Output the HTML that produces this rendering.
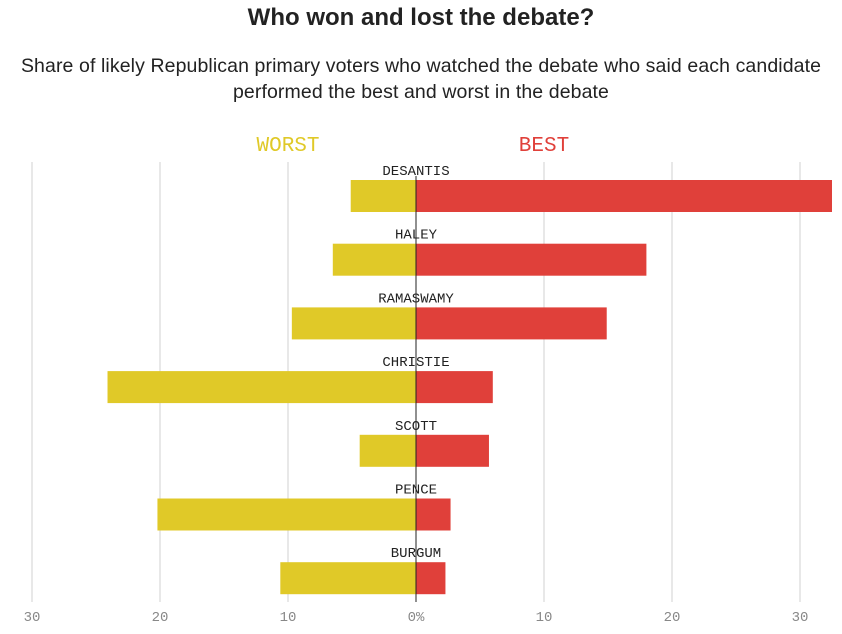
<!DOCTYPE html>
<html><head><meta charset="utf-8"><style>
body{margin:0;background:#fff;width:842px;height:634px;overflow:hidden;font-family:"Liberation Sans",sans-serif}
h1{position:absolute;top:4px;left:0;width:842px;text-align:center;font-size:24px;font-weight:bold;color:#222;margin:0}
.sub{position:absolute;top:53px;left:0;width:842px;text-align:center;font-size:19.5px;line-height:26px;color:#222;letter-spacing:0.1px}
svg{position:absolute;left:0;top:0}
</style></head><body>
<h1>Who won and lost the debate?</h1>
<div class="sub">Share of likely Republican primary voters who watched the debate who said each candidate<br>performed the best and worst in the debate</div>
<svg id="c" width="842" height="634"></svg>
<script>
const candidates=["DESANTIS","HALEY","RAMASWAMY","CHRISTIE","SCOTT","PENCE","BURGUM"];
const bestValues=[32.5,18.0,14.9,6.0,5.7,2.7,2.3];
const worstValues=[5.1,6.5,9.7,24.1,4.4,20.2,10.6];
const tickValues=[-30,-20,-10,0,10,20,30];
const tickLabels=["30","20","10","0%","10","20","30"];
const svg=document.getElementById('c');const NS="http://www.w3.org/2000/svg";
const x=v=>416+v*12.8;
const rowY=i=>180+i*63.7;
function mk(t,a){const e=document.createElementNS(NS,t);for(const k in a)e.setAttribute(k,a[k]);svg.appendChild(e);return e;}
tickValues.forEach((v,i)=>{
 if(v!==0){const g=mk('line',{x1:x(v),x2:x(v),y1:162,y2:602,stroke:'#d0d0d0','stroke-width':1});
 
 }
 const t=mk('text',{x:x(v),y:621,'text-anchor':'middle','font-size':14,fill:'#888','font-family':'Liberation Mono, monospace'});
 t.textContent=tickLabels[i];
 
 
});
const lw=mk('text',{x:288,y:151,'text-anchor':'middle','font-size':21,fill:'#e0c928','font-family':'Liberation Mono, monospace'});lw.textContent='WORST';


const lb=mk('text',{x:544,y:151,'text-anchor':'middle','font-size':21,fill:'#e0403a','font-family':'Liberation Mono, monospace'});lb.textContent='BEST';


candidates.forEach((c,i)=>{
 const y=rowY(i);
 const w=mk('rect',{x:x(-worstValues[i]),y:y,width:x(0)-x(-worstValues[i]),height:32,fill:'#e0c928'});
 
 
 const b=mk('rect',{x:x(0),y:y,width:x(bestValues[i])-x(0),height:32,fill:'#e0403a'});
 
 
 const t=mk('text',{x:416,y:y-5,'text-anchor':'middle','font-size':14,fill:'#222','font-family':'Liberation Mono, monospace'});
 t.textContent=c;
 
 
});
const z=mk('line',{x1:416,x2:416,y1:176,y2:602,stroke:'#222','stroke-width':1});


</script>
</body></html>
